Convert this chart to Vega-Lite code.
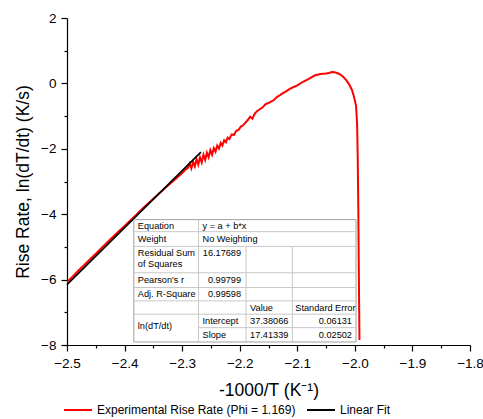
{
  "$schema": "https://vega.github.io/schema/vega-lite/v6.json",
  "width": 403,
  "height": 327,
  "autosize": "none",
  "padding": {"left": 67, "top": 18, "right": 13, "bottom": 74},
  "background": "white",
  "config": {
    "view": {"stroke": null},
    "font": "Liberation Sans",
    "axis": {
      "grid": false,
      "domainColor": "#000",
      "tickColor": "#000",
      "labelColor": "#000",
      "titleColor": "#000",
      "labelFont": "Liberation Sans",
      "titleFont": "Liberation Sans",
      "labelFontSize": 13.5,
      "titleFontSize": 17.5,
      "titleFontWeight": "normal",
      "domainWidth": 1.2,
      "tickWidth": 1.2
    }
  },
  "datasets": {
    "rise": [
      {"x": -2.5, "y": -6.08}, {"x": -2.49, "y": -5.9}, {"x": -2.48, "y": -5.72}, {"x": -2.47, "y": -5.55},
      {"x": -2.46, "y": -5.38}, {"x": -2.45, "y": -5.21}, {"x": -2.44, "y": -5.03}, {"x": -2.43, "y": -4.86},
      {"x": -2.42, "y": -4.69}, {"x": -2.41, "y": -4.52}, {"x": -2.4, "y": -4.36}, {"x": -2.39, "y": -4.19},
      {"x": -2.38, "y": -4.02}, {"x": -2.37, "y": -3.85}, {"x": -2.36, "y": -3.69}, {"x": -2.35, "y": -3.53},
      {"x": -2.34, "y": -3.37}, {"x": -2.33, "y": -3.21}, {"x": -2.32, "y": -3.05}, {"x": -2.31, "y": -2.9},
      {"x": -2.3, "y": -2.74}, {"x": -2.295, "y": -2.65}, {"x": -2.29, "y": -2.58}, {"x": -2.287, "y": -2.45},
      {"x": -2.284, "y": -2.6}, {"x": -2.281, "y": -2.4}, {"x": -2.278, "y": -2.54}, {"x": -2.275, "y": -2.32},
      {"x": -2.272, "y": -2.48}, {"x": -2.269, "y": -2.26}, {"x": -2.266, "y": -2.42}, {"x": -2.263, "y": -2.18},
      {"x": -2.26, "y": -2.34}, {"x": -2.257, "y": -2.12}, {"x": -2.254, "y": -2.26}, {"x": -2.251, "y": -2.04},
      {"x": -2.248, "y": -2.18}, {"x": -2.245, "y": -1.98}, {"x": -2.242, "y": -2.09}, {"x": -2.239, "y": -1.9},
      {"x": -2.236, "y": -1.99}, {"x": -2.233, "y": -1.82}, {"x": -2.23, "y": -1.9}, {"x": -2.227, "y": -1.74},
      {"x": -2.224, "y": -1.8}, {"x": -2.221, "y": -1.66}, {"x": -2.218, "y": -1.7}, {"x": -2.214, "y": -1.56},
      {"x": -2.21, "y": -1.58}, {"x": -2.206, "y": -1.45}, {"x": -2.202, "y": -1.42}, {"x": -2.198, "y": -1.32},
      {"x": -2.194, "y": -1.28}, {"x": -2.19, "y": -1.2}, {"x": -2.186, "y": -1.12}, {"x": -2.182, "y": -1.02},
      {"x": -2.178, "y": -1.08}, {"x": -2.174, "y": -0.93}, {"x": -2.17, "y": -0.85}, {"x": -2.165, "y": -0.79},
      {"x": -2.16, "y": -0.73}, {"x": -2.155, "y": -0.63}, {"x": -2.15, "y": -0.6}, {"x": -2.145, "y": -0.55},
      {"x": -2.14, "y": -0.5}, {"x": -2.135, "y": -0.41}, {"x": -2.13, "y": -0.36}, {"x": -2.125, "y": -0.3},
      {"x": -2.12, "y": -0.25}, {"x": -2.115, "y": -0.19}, {"x": -2.11, "y": -0.14}, {"x": -2.1, "y": -0.06},
      {"x": -2.09, "y": 0.05}, {"x": -2.08, "y": 0.14}, {"x": -2.07, "y": 0.24}, {"x": -2.06, "y": 0.29},
      {"x": -2.05, "y": 0.3}, {"x": -2.045, "y": 0.32}, {"x": -2.04, "y": 0.35}, {"x": -2.035, "y": 0.34},
      {"x": -2.03, "y": 0.31}, {"x": -2.025, "y": 0.27}, {"x": -2.02, "y": 0.2}, {"x": -2.015, "y": 0.1},
      {"x": -2.01, "y": -0.03}, {"x": -2.005, "y": -0.2}, {"x": -2.002, "y": -0.38}, {"x": -2.0, "y": -0.52},
      {"x": -1.998, "y": -0.68}, {"x": -1.997, "y": -0.95}, {"x": -1.996, "y": -1.3}, {"x": -1.995, "y": -2.3},
      {"x": -1.994, "y": -3.8}, {"x": -1.9933, "y": -5.3}, {"x": -1.9926, "y": -6.7}, {"x": -1.992, "y": -7.85}
    ],
    "fit": [
      {"x": -2.5, "y": -6.153},
      {"x": -2.2674, "y": -2.103}
    ],
    "box": [
      {"x1": -2.384, "x2": -1.998, "y1": -4.166, "y2": -7.908}
    ],
    "lines": [
      {"x1": -2.384, "x2": -1.998, "y1": -4.534, "y2": -4.534},
      {"x1": -2.384, "x2": -1.998, "y1": -4.985, "y2": -4.985},
      {"x1": -2.384, "x2": -1.998, "y1": -5.791, "y2": -5.791},
      {"x1": -2.384, "x2": -1.998, "y1": -6.242, "y2": -6.242},
      {"x1": -2.384, "x2": -1.998, "y1": -6.65, "y2": -6.65},
      {"x1": -2.384, "x2": -1.998, "y1": -7.058, "y2": -7.058},
      {"x1": -2.2715, "x2": -1.998, "y1": -7.469, "y2": -7.469},
      {"x1": -2.2715, "x2": -2.2715, "y1": -4.166, "y2": -7.908},
      {"x1": -2.189, "x2": -2.189, "y1": -4.985, "y2": -7.908},
      {"x1": -2.1085, "x2": -2.1085, "y1": -4.985, "y2": -7.908}
    ],
    "cells": [
      {"t": "Equation", "x": -2.377, "y": -4.35, "a": "l"},
      {"t": "y = a + b*x", "x": -2.2646, "y": -4.35, "a": "l"},
      {"t": "Weight", "x": -2.377, "y": -4.76, "a": "l"},
      {"t": "No Weighting", "x": -2.2646, "y": -4.76, "a": "l"},
      {"t": "Residual Sum", "x": -2.377, "y": -5.2, "a": "l"},
      {"t": "of Squares", "x": -2.377, "y": -5.525, "a": "l"},
      {"t": "16.17689", "x": -2.1976, "y": -5.2, "a": "r"},
      {"t": "Pearson's r", "x": -2.377, "y": -6.017, "a": "l"},
      {"t": "0.99799", "x": -2.1976, "y": -6.017, "a": "r"},
      {"t": "Adj. R-Square", "x": -2.377, "y": -6.446, "a": "l"},
      {"t": "0.99598", "x": -2.1976, "y": -6.446, "a": "r"},
      {"t": "Value", "x": -2.182, "y": -6.854, "a": "l"},
      {"t": "Standard Error", "x": -2.1035, "y": -6.854, "a": "l"},
      {"t": "ln(dT/dt)", "x": -2.377, "y": -7.42, "a": "l"},
      {"t": "Intercept", "x": -2.2646, "y": -7.2635, "a": "l"},
      {"t": "37.38066", "x": -2.182, "y": -7.2635, "a": "l"},
      {"t": "0.06131", "x": -2.005, "y": -7.2635, "a": "r"},
      {"t": "Slope", "x": -2.2646, "y": -7.6885, "a": "l"},
      {"t": "17.41339", "x": -2.182, "y": -7.6885, "a": "l"},
      {"t": "0.02502", "x": -2.005, "y": -7.6885, "a": "r"}
    ]
  },
  "resolve": {"axis": {"x": "independent", "y": "independent"}},
  "layer": [
    {
      "data": {"name": "rise"},
      "transform": [{"calculate": "'Experimental Rise Rate (Phi = 1.169)'", "as": "s"}],
      "mark": {"type": "line", "strokeWidth": 2, "clip": true},
      "encoding": {
        "x": {"field": "x", "type": "quantitative", "sort": null,
          "scale": {"domain": [-2.5, -1.8], "nice": false, "zero": false},
          "axis": {"orient": "bottom", "title": "-1000/T (K⁻¹)", "values": [-2.5, -2.4, -2.3, -2.2, -2.1, -2.0, -1.9, -1.8], "format": ".1f", "tickSize": 6, "labelPadding": 5, "titlePadding": 12, "labelFlush": false, "labelOverlap": false}},
        "y": {"field": "y", "type": "quantitative",
          "scale": {"domain": [-8, 2], "nice": false, "zero": false},
          "axis": {"orient": "left", "title": "Rise Rate, ln(dT/dt) (K/s)", "values": [-8, -6, -4, -2, 0, 2], "format": "d", "tickSize": 6, "labelPadding": 5, "titlePadding": 8, "labelFlush": false, "labelOverlap": false}},
        "color": {"field": "s", "type": "nominal",
          "scale": {"domain": ["Experimental Rise Rate (Phi = 1.169)", "Linear Fit"], "range": ["#ff0000", "#000000"]},
          "legend": {"orient": "none", "legendX": -4, "legendY": 377, "direction": "horizontal", "title": null,
            "symbolType": "stroke", "symbolSize": 784, "symbolStrokeWidth": 2, "labelFontSize": 12, "labelFont": "Liberation Sans", "labelColor": "#000", "labelOffset": 4, "columnPadding": 7, "labelLimit": 400}}
      }
    },
    {
      "data": {"name": "fit"},
      "transform": [{"calculate": "'Linear Fit'", "as": "s"}],
      "mark": {"type": "line", "strokeWidth": 1.6},
      "encoding": {
        "x": {"field": "x", "type": "quantitative",
          "axis": {"orient": "bottom", "title": null, "values": [-2.45, -2.35, -2.25, -2.15, -2.05, -1.95, -1.85], "labels": false, "domain": false, "tickSize": 3}},
        "y": {"field": "y", "type": "quantitative",
          "axis": {"orient": "left", "title": null, "values": [-7, -5, -3, -1, 1], "labels": false, "domain": false, "tickSize": 3}},
        "color": {"field": "s", "type": "nominal"}
      }
    },
    {
      "data": {"name": "box"},
      "mark": {"type": "rect", "fill": "#ffffff", "stroke": "#a0a0a0", "strokeWidth": 1},
      "encoding": {
        "x": {"field": "x1", "type": "quantitative", "axis": null},
        "x2": {"field": "x2"},
        "y": {"field": "y1", "type": "quantitative", "axis": null},
        "y2": {"field": "y2"}
      }
    },
    {
      "data": {"name": "lines"},
      "mark": {"type": "rule", "stroke": "#c8c8c8", "strokeWidth": 1},
      "encoding": {
        "x": {"field": "x1", "type": "quantitative", "axis": null},
        "x2": {"field": "x2"},
        "y": {"field": "y1", "type": "quantitative", "axis": null},
        "y2": {"field": "y2"}
      }
    },
    {
      "data": {"name": "cells"},
      "transform": [{"filter": "datum.a == 'l'"}],
      "mark": {"type": "text", "align": "left", "baseline": "middle", "fontSize": 9.2, "font": "Liberation Sans", "color": "#000"},
      "encoding": {
        "x": {"field": "x", "type": "quantitative", "axis": null},
        "y": {"field": "y", "type": "quantitative", "axis": null},
        "text": {"field": "t"}
      }
    },
    {
      "data": {"name": "cells"},
      "transform": [{"filter": "datum.a == 'r'"}],
      "mark": {"type": "text", "align": "right", "baseline": "middle", "fontSize": 9.2, "font": "Liberation Sans", "color": "#000"},
      "encoding": {
        "x": {"field": "x", "type": "quantitative", "axis": null},
        "y": {"field": "y", "type": "quantitative", "axis": null},
        "text": {"field": "t"}
      }
    }
  ]
}
